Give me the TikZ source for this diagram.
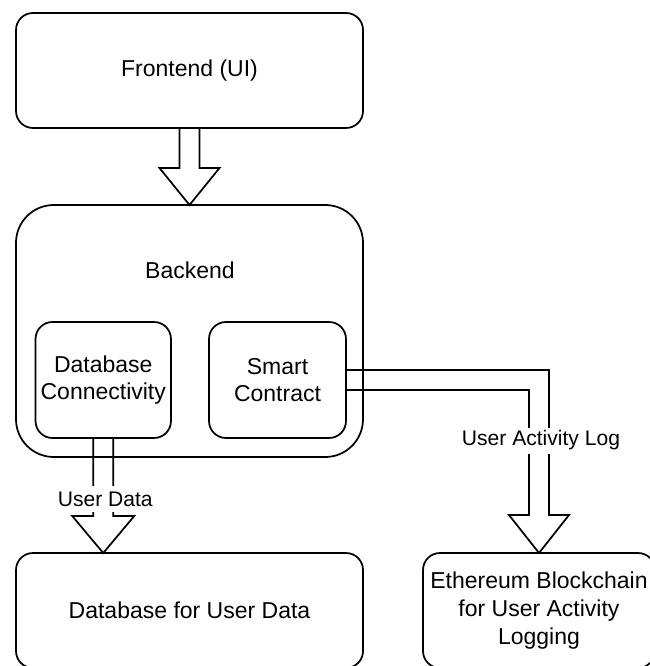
\documentclass[tikz,border=0pt]{standalone}
\usepackage{fontspec}
\setmainfont{Liberation Sans}
\usetikzlibrary{calc}
\begin{document}
\begin{tikzpicture}[x=0.75pt,y=-0.75pt,
  box/.style={draw, line width=1.3pt, rounded corners=12.75pt, inner sep=0pt, outer sep=0pt,
    align=center, font={\fontsize{17.25}{20.7}\selectfont}},
  flexarrow/.style={draw, line width=1.3pt, line join=miter},
  edgelabel/.style={fill=white, inner xsep=1pt, inner ysep=0pt, minimum height=19.5pt,
    font={\fontsize{15.8}{19}\selectfont}}]
  \fill[white] (0,0) rectangle (649,666);
  \useasboundingbox (0,0) rectangle (649,666);

  % layers
  \node[box, minimum width=260.25pt, minimum height=86.25pt] (fe) at (189.5,70.5) {Frontend (UI)};
  \node[box, rounded corners=28.35pt, minimum width=260.25pt, minimum height=189pt] (be) at (189.5,331) {};
  \node[font={\fontsize{17.25}{20.7}\selectfont}] (belabel) at (190,270) {Backend};
  \node[box, minimum width=101.6pt, minimum height=87pt] (dbc) at (103.25,380) {Database\\Connectivity};
  \node[box, minimum width=102.75pt, minimum height=87pt] (sc) at (277.5,380) {Smart\\Contract};
  \node[box, minimum width=260.25pt, minimum height=86.25pt] (db) at (189.5,610.5) {Database for User Data};
  \node[box, minimum width=174pt, minimum height=86.25pt] (eth) at (539,610.5) {Ethereum Blockchain\\for User Activity\\Logging};

  % frontend -> backend
  \draw[flexarrow] ($(fe.south)+(-10,0)$) -- ++(0,40) -- ++(-20,0) -- (be.north)
    -- ++(30,-37) -- ++(-20,0) -- ($(fe.south)+(10,0)$);

  % database connectivity -> database
  \draw[flexarrow] ($(dbc.south)+(-10,0)$) -- ++(0,78) -- ++(-21,0) -- (dbc.south |- db.north)
    -- ++(31,-37) -- ++(-21,0) -- ($(dbc.south)+(10,0)$);
  \node[edgelabel] (udlabel) at ($(dbc.south)+(2,61)$) {User Data};

  % smart contract -> blockchain
  \draw[flexarrow] ($(sc.east)+(0,-10)$) -- ($(eth.north |- sc.east)+(10,-10)$)
    -- ($(eth.north)+(10,-38)$) -- ++(20,0) -- (eth.north) -- ++(-30,-38) -- ++(20,0)
    -- ($(eth.north |- sc.east)+(-10,10)$) -- ($(sc.east)+(0,10)$);
  \node[edgelabel] (ualabel) at ($(eth.north)+(2,-112.5)$) {User Activity Log};
\end{tikzpicture}
\end{document}
